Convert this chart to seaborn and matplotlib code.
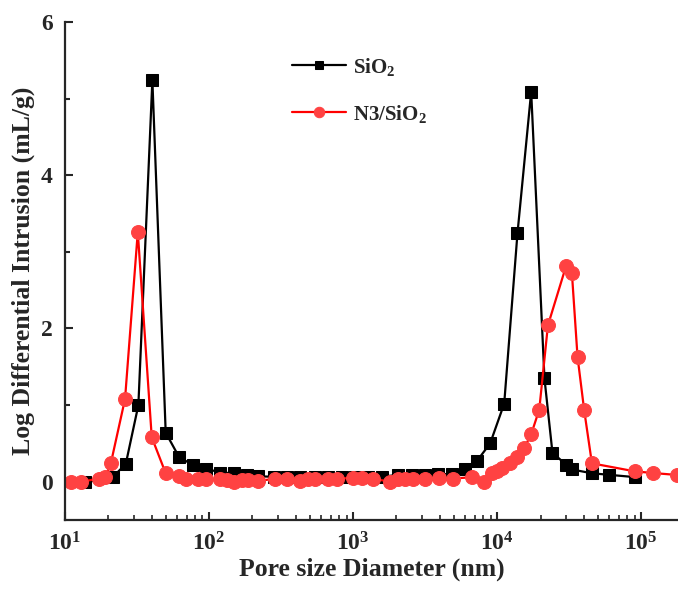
import numpy as np
import pandas as pd
import matplotlib
matplotlib.use("Agg")
import matplotlib.pyplot as plt
import seaborn as sns
from matplotlib.ticker import LogLocator, MultipleLocator

# --- data ---
sio2_d = [13.8, 21.4, 26.4, 32.3, 40.4, 50, 62, 77, 95, 120,
          149, 183, 220, 282, 348, 429, 545, 670, 839, 1033,
          1271, 1589, 2053, 2570, 3162, 3900, 4840, 6000, 7230, 8940,
          11190, 13830, 17220, 21290, 24190, 30130, 33000, 45470, 60000, 90300]
sio2_v = [-0.01, 0.06, 0.23, 1.0, 5.24, 0.64, 0.32, 0.22, 0.17, 0.12,
          0.11, 0.09, 0.07, 0.065, 0.065, 0.065, 0.065, 0.065, 0.065, 0.065,
          0.065, 0.065, 0.09, 0.09, 0.09, 0.10, 0.10, 0.17, 0.27, 0.50,
          1.02, 3.24, 5.09, 1.35, 0.38, 0.22, 0.16, 0.11, 0.09, 0.06]

n3_d = [11.0, 12.9, 17.2, 19.0, 20.8, 26.1, 32.0, 40.0, 50, 62,
        69, 83.5, 95, 120, 133, 150, 169, 185, 220, 287,
        348, 429, 487, 545, 670, 774, 1000, 1155, 1377, 1807,
        2054, 2297, 2612, 3162, 3954, 4920, 6730, 8160, 9190, 9950,
        10780, 12310, 13830, 15400, 17220, 19590, 22500, 30130, 33000, 36130,
        40200, 45470, 90300, 120500, 177000]
n3_v = [0.0, 0.0, 0.04, 0.06, 0.24, 1.08, 3.26, 0.58, 0.11, 0.07,
        0.04, 0.04, 0.03, 0.03, 0.02, 0.0, 0.02, 0.02, 0.01, 0.04,
        0.03, 0.01, 0.03, 0.03, 0.04, 0.04, 0.05, 0.05, 0.04, 0.0,
        0.03, 0.04, 0.04, 0.04, 0.05, 0.04, 0.06, -0.01, 0.12, 0.14,
        0.18, 0.25, 0.32, 0.44, 0.62, 0.94, 2.04, 2.82, 2.73, 1.63,
        0.93, 0.24, 0.135, 0.114, 0.088]

sns.set_style("ticks")
plt.rcParams['font.family'] = ['Liberation Serif', 'DejaVu Serif']
plt.rcParams['font.weight'] = 'bold'
plt.rcParams['axes.labelweight'] = 'bold'
plt.rcParams['mathtext.fontset'] = 'custom'
plt.rcParams['mathtext.rm'] = 'Liberation Serif:bold'
plt.rcParams['mathtext.bf'] = 'Liberation Serif:bold'
plt.rcParams['mathtext.it'] = 'Liberation Serif:italic:bold'

fig = plt.figure(figsize=(6.78, 5.90), dpi=100)
ax = fig.add_axes([0.0959, 0.1186, 0.9041, 0.8441])

sns.lineplot(x=sio2_d, y=sio2_v, ax=ax, color='black', lw=1.6, marker='s',
             markersize=8.5, markerfacecolor='black', markeredgecolor='black',
             estimator=None, label='SiO$_2$')
sns.lineplot(x=n3_d, y=n3_v, ax=ax, color='red', lw=1.6, marker='o',
             markersize=10, markerfacecolor='#FF4242', markeredgecolor='#FF4242',
             estimator=None, label='N3/SiO$_2$')

ax.set_xscale('log')
ax.set_xlim(10, 1.8e5)
ax.set_ylim(-0.5, 6)
ax.yaxis.set_major_locator(MultipleLocator(2))
ax.yaxis.set_minor_locator(MultipleLocator(1))
ax.xaxis.set_major_locator(LogLocator(base=10, numticks=10))
ax.xaxis.set_minor_locator(LogLocator(base=10, subs=np.arange(2, 10), numticks=20))

ax.tick_params(axis='both', which='major', direction='in', width=1.5, length=6,
               labelsize=17)
ax.tick_params(axis='y', which='major', pad=9)
ax.tick_params(axis='x', which='major', pad=9)
ax.tick_params(axis='x', which='minor', direction='in', width=1.2, length=3.5)
ax.tick_params(axis='y', which='minor', direction='in', width=1.5, length=3.5)

sns.despine(ax=ax)
for s in ['left', 'bottom']:
    ax.spines[s].set_linewidth(1.6)

ax.set_xlabel('Pore size Diameter (nm)', fontsize=18.5, fontweight='bold', labelpad=1)
ax.set_ylabel('Log Differential Intrusion (mL/g)', fontsize=18.5, fontweight='bold',
              labelpad=4)

leg = ax.legend(loc='upper left', bbox_to_anchor=(0.34, 0.97), frameon=False,
                fontsize=15, handlelength=2.6, handletextpad=0.3,
                labelspacing=1.2, markerscale=0.75)

fig.savefig('out.png', dpi=100)
